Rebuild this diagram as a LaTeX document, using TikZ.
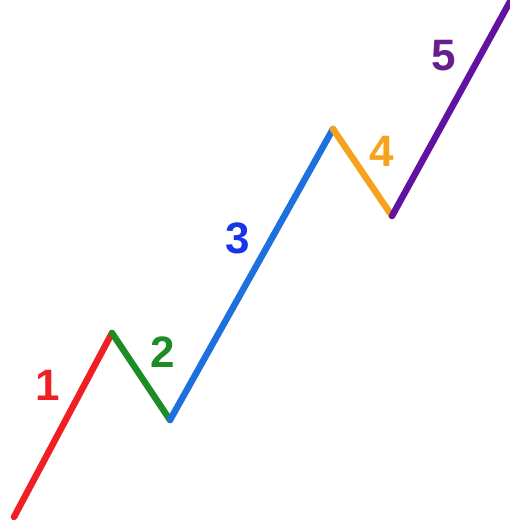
\documentclass[tikz,border=0pt]{standalone}
\usepackage{fontspec}
\setmainfont{Liberation Sans}
\definecolor{wred}{RGB}{238,32,36}
\definecolor{wgreen}{RGB}{28,140,36}
\definecolor{wblue}{RGB}{30,112,222}
\definecolor{wbluetxt}{RGB}{24,52,232}
\definecolor{worange}{RGB}{246,162,28}
\definecolor{wpurple}{RGB}{98,18,160}
\definecolor{wpurpletxt}{RGB}{104,30,140}
\tikzset{
  wave/.style={line width=6.5pt, line cap=round, line join=round},
  lbl/.style={font=\fontsize{44}{44}\selectfont\bfseries, inner sep=0pt}
}
\begin{document}
\begin{tikzpicture}[x=1pt,y=-1pt]
\useasboundingbox (0,0) rectangle (510,525);
\coordinate (p0) at (14,517);
\coordinate (p1) at (112,333);
\coordinate (p2) at (170,420);
\coordinate (p3) at (333,129);
\coordinate (p4) at (392,216);
\coordinate (p5) at (512,-2);
\draw[wave, wred] (p0) -- (p1);
\draw[wave, wgreen] (p1) -- (p2);
\draw[wave, wblue] (p2) -- (p3);
\draw[wave, worange] (p3) -- (p4);
\draw[wave, wpurple] (p4) -- (p5);
\node[lbl, text=wred] (l1) at (48,385) {1};
\node[lbl, text=wgreen] (l2) at (163,352) {2};
\node[lbl, text=wbluetxt] (l3) at (238,238) {3};
\node[lbl, text=worange] (l4) at (382,151) {4};
\node[lbl, text=wpurpletxt] (l5) at (444,56) {5};
\end{tikzpicture}
\end{document}
